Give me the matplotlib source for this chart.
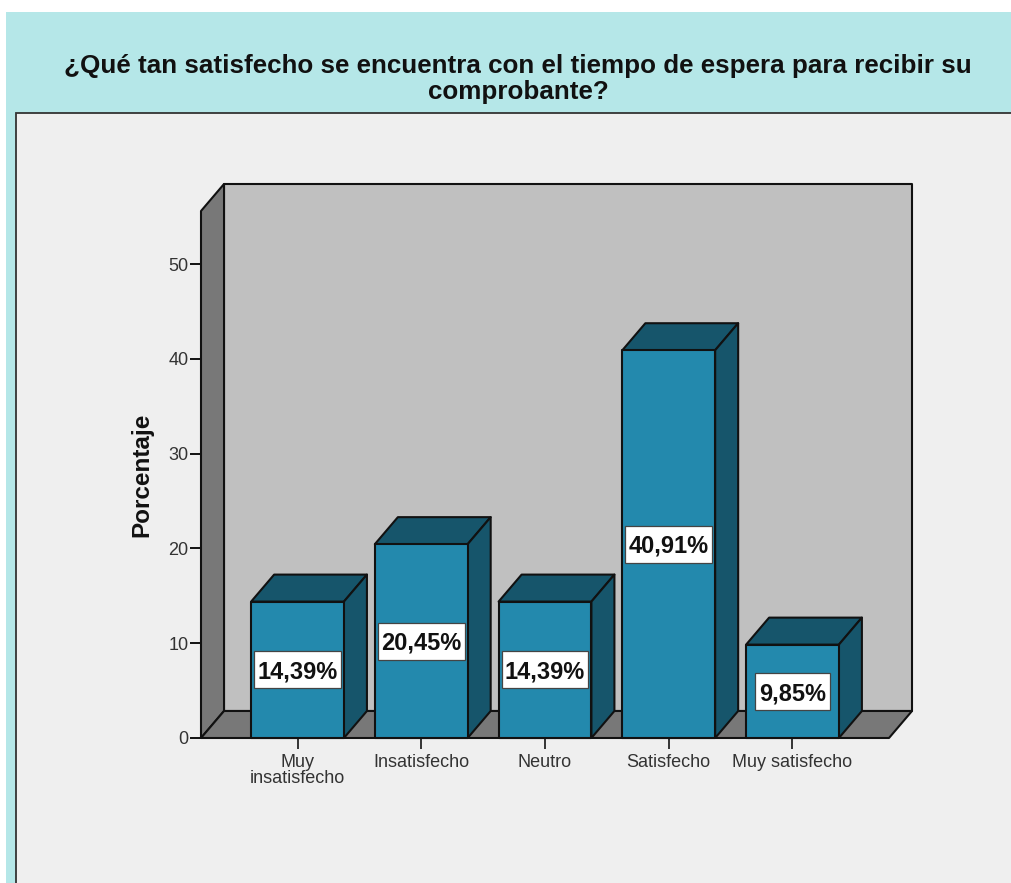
import matplotlib
matplotlib.use('Agg')
import matplotlib.pyplot as plt
from matplotlib.patches import Polygon, Rectangle

plt.rcParams['font.family'] = ['Liberation Sans', 'DejaVu Sans']

# Values
categories = ['Muy\ninsatisfecho', 'Insatisfecho', 'Neutro', 'Satisfecho', 'Muy satisfecho']
values = [14.39, 20.45, 14.39, 40.91, 9.85]
labels = ['14,39%', '20,45%', '14,39%', '40,91%', '9,85%']
yticks = [0, 10, 20, 30, 40, 50]

W, H = 1012, 883
LINE = '#111111'
BAR_WIDTH = 0.75
DX = 0.186   # depth of the fake 3D, x units
DY = 2.85    # depth of the fake 3D, y units
YMAX = 55.6
XMIN, XMAX = -0.78, 4.78
BOX_H = 3.9  # label box height, y units

fig = plt.figure(figsize=(W / 100, H / 100), dpi=100, facecolor='white')


def px_rect(x0, y0, x1, y1, **kw):
    # rectangle given in image pixels, y going down
    fig.add_artist(Rectangle((x0 / W, 1 - y1 / H), (x1 - x0) / W, (y1 - y0) / H,
                             transform=fig.transFigure, zorder=-5, **kw))


# Teal frame and grey panel behind the chart
px_rect(6, 12, W, H, facecolor='#B5E7E8', edgecolor='none')
px_rect(16.5, 112.5, W + 5, H + 5, facecolor='#EFEFEF', edgecolor='#333333', linewidth=1.3)

fig.text(518 / W, 1 - 79 / H,
         '¿Qué tan satisfecho se encuentra con el tiempo de espera para recibir su\ncomprobante?',
         ha='center', va='center', fontsize=18.7, fontweight='bold', color='#111111', linespacing=1.07)

ax = fig.add_axes([201 / W, 1 - 738 / H, (889 - 201) / W, (738 - 211) / H])
ax.patch.set_visible(False)
ax.set_xlim(XMIN, XMAX)
ax.set_ylim(0, YMAX)
for s in ax.spines.values():
    s.set_visible(False)


def poly(points, color, z):
    ax.add_patch(Polygon(points, closed=True, facecolor=color, edgecolor=LINE,
                         linewidth=1.5, joinstyle='round', clip_on=False, zorder=z))


# Back wall, left wall and floor
poly([(XMIN + DX, DY), (XMAX + DX, DY), (XMAX + DX, YMAX + DY), (XMIN + DX, YMAX + DY)], '#C0C0C0', 1)
poly([(XMIN, 0), (XMIN + DX, DY), (XMIN + DX, YMAX + DY), (XMIN, YMAX)], '#787878', 2)
poly([(XMIN, 0), (XMAX, 0), (XMAX + DX, DY), (XMIN + DX, DY)], '#787878', 2)

# Bars: front, top and side faces, then the value box
for i, v in enumerate(values):
    l = i - BAR_WIDTH / 2
    r = i + BAR_WIDTH / 2
    poly([(l, v), (r, v), (r + DX, v + DY), (l + DX, v + DY)], '#16556B', 3)
    poly([(r, 0), (r + DX, DY), (r + DX, v + DY), (r, v)], '#16556B', 3)
    poly([(l, 0), (r, 0), (r, v), (l, v)], '#2389AD', 4)
    box_w = 0.70 if len(labels[i]) == 6 else 0.60
    ax.add_patch(Rectangle((i - box_w / 2, v / 2 - BOX_H / 2), box_w, BOX_H, facecolor='white',
                           edgecolor='#444444', linewidth=0.9, zorder=5))
    ax.text(i, v / 2 - 0.25, labels[i], ha='center', va='center', fontsize=17, fontweight='bold',
            color='#111111', zorder=6)

ax.set_yticks(yticks)
ax.set_xticks(range(len(categories)))
ax.set_xticklabels(categories, linespacing=0.93)
ax.tick_params(axis='y', length=8, width=1.4, color=LINE, pad=1, labelsize=13, labelcolor='#333333')
ax.tick_params(axis='x', length=8, width=1.4, color='#333333', pad=3.5, labelsize=13, labelcolor='#333333')

ax.set_ylabel('Porcentaje', fontsize=17.5, fontweight='bold', color='#111111')
ax.yaxis.set_label_coords((153 - 201) / (889 - 201), 0.5)

fig.savefig('out.png', dpi=100, facecolor='white')
